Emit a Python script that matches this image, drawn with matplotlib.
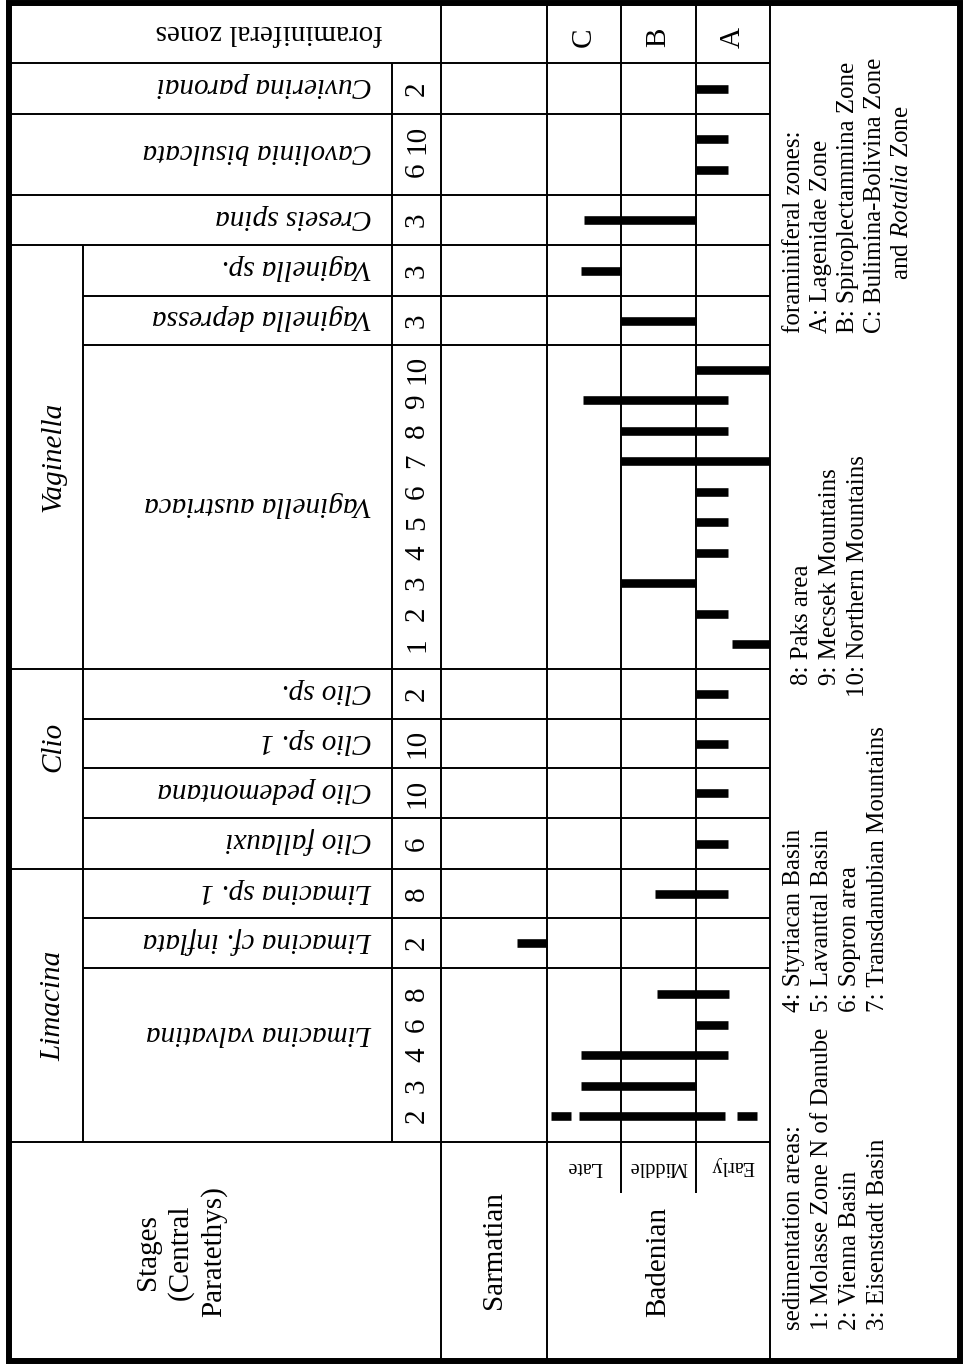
import matplotlib.pyplot as plt
from matplotlib.patches import Rectangle

plt.rcParams['font.family'] = ['Liberation Serif', 'DejaVu Serif']
plt.rcParams['mathtext.fontset'] = 'custom'
plt.rcParams['mathtext.rm'] = 'Liberation Serif'
plt.rcParams['mathtext.it'] = 'Liberation Serif:italic'

# pteropod taxa, top to bottom of the page, with their genus group
genus = ['', '', '', 'Vaginella', 'Vaginella', 'Vaginella', 'Clio', 'Clio', 'Clio', 'Clio',
         'Limacina', 'Limacina', 'Limacina']
species = ['Cuvierina paronai', 'Cavolinia bisulcata', 'Creseis spina', 'Vaginella sp.',
           'Vaginella depressa', 'Vaginella austriaca', 'Clio sp.', 'Clio sp. 1',
           'Clio pedemontana', 'Clio fallauxi', 'Limacina sp. 1', 'Limacina cf. inflata',
           'Limacina valvatina']
areas = [[2], [6, 10], [3], [3], [3], [1, 2, 3, 4, 5, 6, 7, 8, 9, 10], [2], [10], [10], [6],
         [8], [2], [2, 3, 4, 6, 8]]

# ranges in stage units: 0 = base Early Badenian, 1 = base Middle, 2 = base Late, 3 = base Sarmatian
rng_species = ['Cuvierina paronai', 'Cavolinia bisulcata', 'Cavolinia bisulcata', 'Creseis spina',
               'Vaginella sp.', 'Vaginella depressa'] + ['Vaginella austriaca'] * 10 + \
              ['Clio sp.', 'Clio sp. 1', 'Clio pedemontana', 'Clio fallauxi', 'Limacina sp. 1',
               'Limacina cf. inflata'] + ['Limacina valvatina'] * 7
rng_area = [2, 6, 10, 3, 3, 3, 1, 2, 3, 4, 5, 6, 7, 8, 9, 10, 2, 10, 10, 6, 8, 2,
            2, 2, 2, 3, 4, 6, 8]
rng_from = [0.57, 0.57, 0.57, 1.0, 2.0, 1.0, 0.0, 0.57, 1.0, 0.57, 0.57, 0.57, 0.0, 0.57, 0.57, 0.0,
            0.57, 0.57, 0.57, 0.57, 0.57, 3.0,
            0.18, 0.61, 2.68, 1.0, 0.57, 0.57, 0.55]
rng_to = [1.0, 1.0, 1.0, 2.5, 2.55, 2.0, 0.51, 1.0, 2.0, 1.0, 1.0, 1.0, 2.0, 2.0, 2.52, 1.0,
          1.0, 1.0, 1.0, 1.0, 1.55, 3.4,
          0.44, 2.57, 2.95, 2.55, 2.55, 1.0, 1.52]

substages = ['Early', 'Middle', 'Late']
foram_zones = ['A', 'B', 'C']

sed_areas = ['1: Molasse Zone N of Danube', '2: Vienna Basin', '3: Eisenstadt Basin',
             '4: Styriacan Basin', '5: Lavanttal Basin', '6: Sopron area',
             '7: Transdanubian Mountains', '8: Paks area', '9: Mecsek Mountains',
             '10: Northern Mountains']
zone_names = ['A: Lagenidae Zone', 'B: Spiroplectammina Zone', 'C: Bulimina-Bolivina Zone',
              'and $\\mathit{Rotalia}$ Zone']

# ---- layout (pixels) ----
W, H = 964, 1365
row_edges = [63, 114, 195, 245, 296, 345, 669, 719, 768, 818, 869, 918, 968, 1142]
slot = 30.5
x_left, x_genus, x_num, x_stage, x_right = 9, 83, 392, 441, 770
lw_thin = 1.4
big = 21
genus_shift = {'Clio': -22}

fig = plt.figure(figsize=(W / 100, H / 100), dpi=100)
ax = fig.add_axes([0, 0, 1, 1])
ax.set_xlim(0, W)
ax.set_ylim(H, 0)
ax.axis('off')

# stage axis for the range bars
unit = 74.3
bx = fig.add_axes([x_stage / W, 0, (x_right - x_stage) / W, 1])
bx.set_xlim((x_right - x_stage) / unit, 0)
bx.set_ylim(H, 0)
bx.axis('off')
bx.patch.set_alpha(0)

# outer frame
ax.add_patch(Rectangle((x_left, 3), 951, 1358, fill=False, lw=4.3, color='black'))

# row lines
for k, y in enumerate(row_edges):
    inner = 0 < k < len(row_edges) - 1 and genus[k - 1] == genus[k] and genus[k] != ''
    ax.hlines(y, x_genus if inner else x_left, x_right, color='black', lw=lw_thin)

first_g = next(i for i, g in enumerate(genus) if g)
ax.vlines(x_genus, row_edges[first_g], row_edges[-1], color='black', lw=lw_thin)
ax.vlines(x_num, row_edges[0], row_edges[-1], color='black', lw=lw_thin)
ax.vlines(x_stage, 3, 1361, color='black', lw=lw_thin)
bx.vlines([1, 2], 3, 1193, color='black', lw=lw_thin, clip_on=False)
bx.vlines([0, 3], 3, 1361, color='black', lw=lw_thin, clip_on=False)

# species, numbers and bars
slot_y = {}
for i, name in enumerate(species):
    top, bot = row_edges[i], row_edges[i + 1]
    mid = (top + bot) / 2
    n = len(areas[i])
    ty = mid - 22 if name == 'Limacina valvatina' else mid - 3
    ax.text(372, ty, name, rotation=180, style='italic', fontsize=big,
            ha='right', va='center')
    for j, a in enumerate(areas[i]):
        y = mid + ((n - 1) / 2 - j) * slot
        slot_y[(name, a)] = y
        ax.text(417, y, str(a), rotation=90, fontsize=big, ha='center', va='center')

ys = [slot_y[(s, a)] for s, a in zip(rng_species, rng_area)]
bx.hlines(ys, rng_from, rng_to, color='black', lw=6.2, capstyle='butt')

# genus labels
i = 0
while i < len(genus):
    j = i
    while j + 1 < len(genus) and genus[j + 1] == genus[i]:
        j += 1
    if genus[i]:
        gy = (row_edges[i] + row_edges[j + 1]) / 2 + genus_shift.get(genus[i], 0)
        ax.text(53, gy, genus[i], rotation=90, style='italic', fontsize=big,
                ha='center', va='center')
    i = j + 1

# headers
ax.text(383, 32, 'foraminiferal zones', rotation=180, fontsize=big, ha='right', va='center')
for k, z in enumerate(foram_zones):
    bx.text(k + 0.5, 37, z, rotation=90, fontsize=big, ha='center', va='center')
    bx.text(k + 0.5, 1166, substages[k], rotation=180, fontsize=14.5, ha='center', va='center')
bx.text(1.5, 1262, 'Badenian', rotation=90, fontsize=big, ha='center', va='center')
bx.text((3 + (x_right - x_stage) / unit) / 2, 1250, 'Sarmatian', rotation=90, fontsize=big,
        ha='center', va='center')
ax.text(181, 1252, 'Stages\n(Central\nParatethys)', rotation=90, fontsize=big,
        ha='center', va='center', multialignment='center', linespacing=1.3)

# legend column
leg = 18
sed_x = [794, 822, 850, 878]
ax.text(sed_x[0], 1330, 'sedimentation areas:', rotation=90, fontsize=leg, ha='center', va='bottom')
for k in range(3):
    ax.text(sed_x[k + 1], 1330, sed_areas[k], rotation=90, fontsize=leg, ha='center', va='bottom')
for k in range(4):
    ax.text(sed_x[k], 1012, sed_areas[3 + k], rotation=90, fontsize=leg, ha='center', va='bottom')
for k in range(3):
    start = 697 if sed_areas[7 + k].startswith('10') else 685
    ax.text(sed_x[k] + 8, start, sed_areas[7 + k], rotation=90, fontsize=leg, ha='center', va='bottom')

zone_x = [794, 821, 848, 875, 902]
ax.text(zone_x[0], 333, 'foraminiferal zones:', rotation=90, fontsize=leg, ha='center', va='bottom')
for k, t in enumerate(zone_names):
    ax.text(zone_x[k + 1], 280 if t.startswith('and') else 333, t, rotation=90, fontsize=leg,
            ha='center', va='bottom')

fig.savefig('out.png', dpi=100)
